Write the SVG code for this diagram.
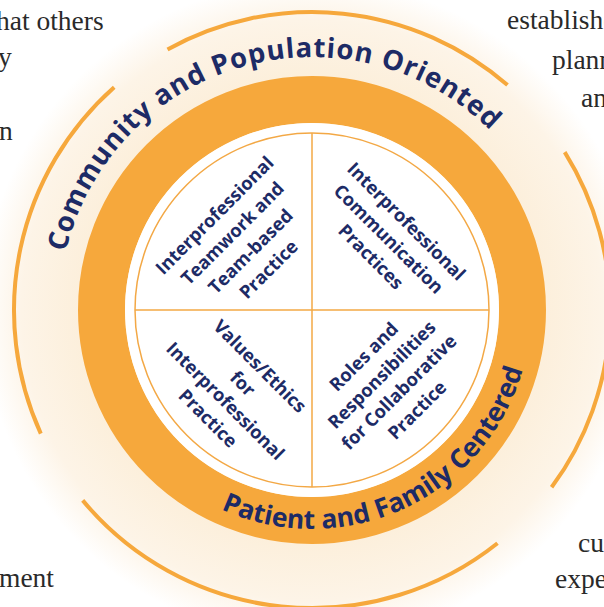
<svg xmlns="http://www.w3.org/2000/svg" width="604" height="607" viewBox="0 0 604 607">
<defs>
<style>
.body{font-family:"Liberation Serif","Times New Roman",serif;font-size:27.5px;fill:#2a2a2a}
.ring-label{font-family:"Open Sans","Noto Sans",sans-serif;font-weight:700;fill:#1d2b66}
.quad{font-family:"Open Sans","Noto Sans",sans-serif;font-weight:700;font-size:18.3px;fill:#1d2b66;text-anchor:middle}
.arc{fill:none;stroke:#f6a83c;stroke-width:4}
.thin{fill:none;stroke:#f3a845;stroke-width:1.5}
</style>
<radialGradient id="cream" cx="312" cy="310" r="330" gradientUnits="userSpaceOnUse">
<stop offset="0.70" stop-color="#fcefdb"/>
<stop offset="0.88" stop-color="#fdf4e7"/>
<stop offset="1" stop-color="#ffffff"/>
</radialGradient>
<path id="topArc" d="M67.1,246.7 A253,253 0 0 1 486.8,127.1"/>
<path id="botArc" d="M225.4,511.1 A219,219 0 0 0 521.4,374.0"/>
</defs>
<rect width="604" height="607" fill="#ffffff"/>
<g id="page-text" class="body">
<text x="-4" y="30">hat others</text>
<text x="-2" y="66">y</text>
<text x="-1" y="139.5">n</text>
<text x="-1" y="587">ment</text>
<text x="507" y="28.5">establishe</text>
<text x="552" y="68.5">plann</text>
<text x="581" y="106.5">an</text>
<text x="578" y="552">cu</text>
<text x="555" y="588">expe</text>
</g>
<g id="background-rings">
<circle cx="312" cy="310" r="330" fill="url(#cream)"/>
<circle cx="312" cy="310" r="210.5" fill="none" stroke="#f6a83c" stroke-width="47"/>
<circle cx="312" cy="310" r="187" fill="#ffffff"/>
</g>
<g id="outer-arcs">
<path class="arc" d="M167.5,49.4 A298,298 0 0 1 507.5,85.1"/>
<path class="arc" d="M564.7,152.1 A298,298 0 0 1 551.6,487.3"/>
<path class="arc" d="M497.5,543.2 A298,298 0 0 1 82.7,500.4"/>
<path class="arc" d="M40.8,433.6 A298,298 0 0 1 114.2,87.2"/>
</g>
<g id="connectors">
<circle class="thin" cx="312" cy="310" r="177"/>
<line class="thin" x1="312" y1="133" x2="312" y2="487"/>
<line class="thin" x1="135" y1="310" x2="489" y2="310"/>
</g>
<g id="community-label">
<text class="ring-label" font-size="27.5" letter-spacing="0.9"><textPath href="#topArc" startOffset="50%" text-anchor="middle">Community and Population Oriented</textPath></text>
</g>
<g id="patient-label">
<text class="ring-label" font-size="26.5"><textPath href="#botArc" startOffset="50%" text-anchor="middle">Patient and Family Centered</textPath></text>
</g>
<g id="teamwork">
<text class="quad" transform="translate(312,310) rotate(-45)"><tspan x="-2" y="-129.5">Interprofessional</tspan><tspan x="-2" y="-104">Teamwork and</tspan><tspan x="-2" y="-78.5">Team-based</tspan><tspan x="-2" y="-53">Practice</tspan></text>
</g>
<g id="communication">
<text class="quad" transform="translate(312,310) rotate(45)"><tspan x="4" y="-123">Interprofessional</tspan><tspan x="4" y="-98">Communication</tspan><tspan x="4" y="-73">Practices</tspan></text>
</g>
<g id="values-ethics">
<text class="quad" transform="translate(312,310) rotate(45)"><tspan x="3" y="83">Values/Ethics</tspan><tspan x="3" y="107.5">for</tspan><tspan x="3" y="132">Interprofessional</tspan><tspan x="3" y="156.5">Practice</tspan></text>
</g>
<g id="roles">
<text class="quad" transform="translate(312,310) rotate(-45)"><tspan x="3.5" y="76">Roles and</tspan><tspan x="3.5" y="101.5">Responsibilities</tspan><tspan x="3.5" y="126">for Collaborative</tspan><tspan x="3.5" y="151.5">Practice</tspan></text>
</g>
</svg>
